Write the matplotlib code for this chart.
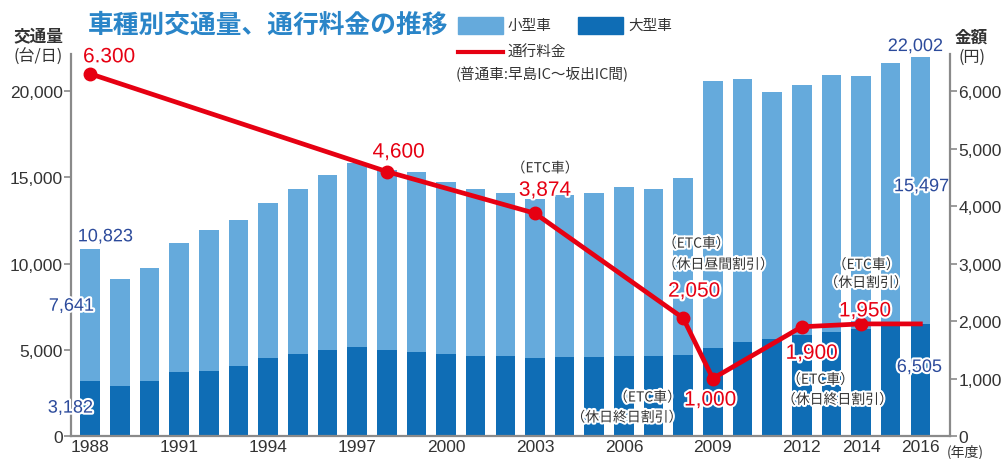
import matplotlib
matplotlib.use('Agg')
import matplotlib.pyplot as plt
import matplotlib.patheffects as pe
from matplotlib.patches import Rectangle
from matplotlib.lines import Line2D

# ---------------- data ----------------
years = list(range(1988, 2017))
large_cars = [3182, 2900, 3210, 3690, 3790, 4060, 4540, 4750, 4990, 5180,
              4990, 4850, 4750, 4660, 4640, 4520, 4560, 4600, 4640, 4640,
              4700, 5080, 5470, 5650, 5850, 6050, 6200, 6380, 6505]
small_cars = [7641, 6180, 6550, 7500, 8130, 8480, 8990, 9590, 10140, 10660,
              10430, 10470, 9990, 9640, 9430, 9230, 9390, 9470, 9770, 9700,
              10280, 15480, 15230, 14290, 14500, 14880, 14690, 15260, 15497]
toll_years = [1988, 1998, 2003, 2008, 2009, 2012, 2014, 2016]
toll_values = [6300, 4600, 3874, 2050, 1000, 1900, 1950, 1950]
toll_labels = ['6.300', '4,600', '3,874', '2,050', '1,000', '1,900', '1,950']
xtick_years = [1988, 1991, 1994, 1997, 2000, 2003, 2006, 2009, 2012, 2014, 2016]
left_ticks = [0, 5000, 10000, 15000, 20000]
left_tick_labels = ['0', '5,000', '10,000', '15,000', '20,000']
right_ticks = [0, 1000, 2000, 3000, 4000, 5000, 6000]
right_tick_labels = ['0', '1,000', '2,000', '3,000', '4,000', '5,000', '6,000']

title = '車種別交通量、通行料金の推移'
legend_small = '小型車'
legend_large = '大型車'
legend_toll = '通行料金'
legend_note = '(普通車:早島IC〜坂出IC間)'

# ---------------- style ----------------
W, H = 1007, 460
LIGHT = '#65aadc'
DARK = '#0f6db5'
RED = '#e60012'
NAVY = '#2b4a9b'
TXT = '#333333'
GRAY = '#8a8a8a'
NUM = ['Liberation Sans', 'DejaVu Sans']
JP = ['Noto Sans CJK JP', 'DejaVu Sans']
halo = [pe.withStroke(linewidth=3, foreground='white')]

fig = plt.figure(figsize=(W / 100, H / 100), dpi=100)
ax = fig.add_axes([71 / W, 23 / H, (950 - 71) / W, (437 - 55) / H])
ymax = 22150
ax.set_ylim(0, ymax)
ax.set_xlim(1987.35, 2017.0)

ax.bar(years, large_cars, width=0.66, color=DARK, zorder=2)
ax.bar(years, small_cars, width=0.66, bottom=large_cars, color=LIGHT, zorder=2)

for s in ['top', 'right']:
    ax.spines[s].set_visible(False)
for s in ['left', 'bottom']:
    ax.spines[s].set_color(GRAY)
    ax.spines[s].set_linewidth(1.6)

ax.set_yticks(left_ticks)
ax.set_yticklabels(left_tick_labels, fontfamily=NUM)
ax.set_xticks(xtick_years)
ax.set_xticklabels([str(y) for y in xtick_years], fontfamily=NUM)
ax.tick_params(axis='y', direction='out', length=5, width=1.2, color=GRAY,
               labelsize=12.5, labelcolor=TXT, pad=1)
ax.tick_params(axis='x', length=0, labelsize=12.5, labelcolor=TXT, pad=2)

ax2 = ax.twinx()
ax2.set_ylim(0, ymax * 0.3)
for s in ['top', 'left', 'bottom']:
    ax2.spines[s].set_visible(False)
ax2.spines['right'].set_color(GRAY)
ax2.spines['right'].set_linewidth(1.6)
ax2.set_yticks(right_ticks)
ax2.set_yticklabels(right_tick_labels, fontfamily=NUM)
ax2.tick_params(axis='y', direction='out', length=5, width=1.2, color=GRAY,
                labelsize=12.5, labelcolor=TXT, pad=1)

ax2.plot(toll_years, toll_values, color=RED, lw=3.4, marker='o', ms=9,
         markevery=list(range(len(toll_labels))), zorder=5,
         solid_joinstyle='round')

P = 0.72  # px -> pt


def ann(axis, x, y, text, dx, dy, color, size, family, ha='center'):
    axis.annotate(text, (x, y), xytext=(dx * P, dy * P), textcoords='offset points',
                  ha=ha, va='center', color=color, fontsize=size,
                  fontfamily=family, path_effects=halo, zorder=6)


red_offsets = [(19, 17), (12, 19.5), (10, 23), (11, 27), (-2.5, -21.5), (10, -26.5), (4, 13)]
for yr, val, lab, (dx, dy) in zip(toll_years, toll_values, toll_labels, red_offsets):
    ann(ax2, yr, val, lab, dx, dy, RED, 15, NUM)

notes = [
    (2003, 3874, '（ETC車）', 10, 45),
    (2008, 2050, '（ETC車）', 13, 74.5),
    (2008, 2050, '（休日昼間割引）', 35, 53.5),
    (2009, 1000, '（ETC車）', -65.5, -19),
    (2009, 1000, '（休日終日割引）', -86, -39),
    (2012, 1900, '（ETC車）', 18.6, -53),
    (2012, 1900, '（休日終日割引）', 35.6, -73),
    (2014, 1950, '（ETC車）', 5, 59),
    (2014, 1950, '（休日割引）', 5, 41),
]
for yr, val, txt, dx, dy in notes:
    ann(ax2, yr, val, txt, dx, dy, TXT, 10, JP)

# blue value labels
i0, i1 = 0, len(years) - 1
tot0 = large_cars[i0] + small_cars[i0]
tot1 = large_cars[i1] + small_cars[i1]
ann(ax, years[i0], tot0, f'{tot0:,}', 15, 12.5, NAVY, 13, NUM)
ann(ax, years[i0], small_cars[i0], f'{small_cars[i0]:,}', -19, -2, NAVY, 13, NUM)
ann(ax, years[i0], large_cars[i0], f'{large_cars[i0]:,}', -20, -27, NAVY, 13, NUM)
ann(ax, years[i1], tot1, f'{tot1:,}', -5, 10, NAVY, 13, NUM)
ann(ax, years[i1], large_cars[i1] + small_cars[i1] / 2, f'{small_cars[i1]:,}', 1, 3.5, NAVY, 13, NUM)
ann(ax, years[i1], large_cars[i1] / 2, f'{large_cars[i1]:,}', -1, 12.5, NAVY, 13, NUM)


def fx(x):
    return x / W


def fy(y):
    return 1 - y / H


# title
fig.text(fx(88), fy(25), title, color='#2a85c8', fontsize=18.5, fontweight='bold',
         fontfamily=JP, ha='left', va='center')

# axis titles
fig.text(fx(38), fy(36), '交通量', fontsize=12, fontweight='bold', fontfamily=JP,
         color=TXT, ha='center', va='center')
fig.text(fx(38), fy(57.5), '(台/日)', fontsize=11.5, fontfamily=JP,
         color=TXT, ha='center', va='center')
fig.text(fx(971), fy(37.5), '金額', fontsize=12, fontweight='bold', fontfamily=JP,
         color=TXT, ha='center', va='center')
fig.text(fx(972), fy(57.5), '(円)', fontsize=11.5, fontfamily=JP,
         color=TXT, ha='center', va='center')
fig.text(fx(947), fy(452), '(年度)', fontsize=10, fontfamily=JP,
         color=TXT, ha='left', va='center')

# legend
fig.add_artist(Rectangle((fx(458), fy(35)), 45 / W, 17 / H, transform=fig.transFigure,
                         color=LIGHT))
fig.text(fx(508), fy(26), legend_small, fontsize=10.5, fontfamily=JP, color=TXT,
         ha='left', va='center')
fig.add_artist(Rectangle((fx(578), fy(35)), 45 / W, 17 / H, transform=fig.transFigure,
                         color=DARK))
fig.text(fx(628), fy(26), legend_large, fontsize=10.5, fontfamily=JP, color=TXT,
         ha='left', va='center')
fig.add_artist(Line2D([fx(458), fx(503)], [fy(53), fy(53)], transform=fig.transFigure,
                      color=RED, lw=3))
fig.text(fx(508), fy(53), legend_toll, fontsize=10.5, fontfamily=JP, color=TXT,
         ha='left', va='center')
fig.text(fx(456), fy(74), legend_note, fontsize=10.5, fontfamily=JP, color=TXT,
         ha='left', va='center')

fig.savefig('out.png', dpi=100)
